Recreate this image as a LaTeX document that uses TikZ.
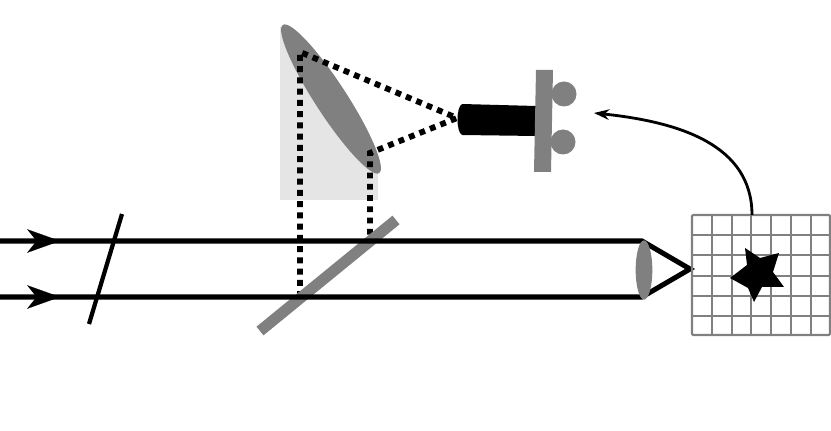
\documentclass[tikz,border=0pt]{standalone}
\usepackage{tikz}
\usetikzlibrary{arrows.meta,shapes.geometric}

\tikzset{
    beam/.style={line width=4.3pt},
    optic/.style={fill=black!50,draw=none},
    relay/.style={line width=5pt,dash pattern=on 5pt off 4.6pt},
    gridline/.style={black!50,line width=1.8pt},
    beamtip/.style={-{Stealth[length=28pt,width=20pt,inset=8pt]},line width=0.1pt},
}

\begin{document}
\begin{tikzpicture}[x=0.03cm,y=-0.03cm]
            \useasboundingbox (0,0) rectangle (831,431);

            % shaded part below the curved mirror
            \fill[black!10] (280,26) -- (378,165) -- (378,200) -- (280,200) -- cycle;
            \node[ellipse,optic,rotate=-57,minimum width=5.3cm,minimum height=0.95cm,inner sep=0pt] (mirror) at (331,99) {};

            % relay path up to the camera
            \coordinate (split1) at (300,297);
            \coordinate (split2) at (370,240);
            \coordinate (focus) at (457,118);
            \draw[relay] (split1) -- (300,52) -- (focus) -- (370,153) -- (split2);

            % camera
            \fill[optic] (564,94) circle (12.5);
            \fill[optic] (563,142) circle (12.5);
            \fill[black] (462,104) -- (536,106) -- (536,136) -- (462,135) .. controls (456,132) and (456,107) .. (462,104) -- cycle;
            \fill[optic] (536,70) -- (553,70) -- (551,172) -- (534,172) -- cycle;

            % beams
            \coordinate (lens1) at (642,241);
            \coordinate (lens2) at (642,297);
            \coordinate (apex) at (690,269);
            \draw[line width=9.5pt,black!50] (260,331) -- (396,220);
            \draw[beam] (0,241) -- (lens1) -- (apex) -- (lens2) -- (0,297);
            \draw[line width=3.6pt] (122,214) -- (89,324);
            \draw[beamtip] (0,241) -- (60,241);
            \draw[beamtip] (0,297) -- (60,297);
            \node[ellipse,optic,minimum width=0.5cm,minimum height=1.78cm,inner sep=0pt] (lens) at (644,270) {};

            % sample plane
            \draw[gridline,rounded corners=1pt] (692,215) rectangle (830,335);
            \foreach \i in {712,732,751,771,791,811} {
                \draw[gridline] (\i,215) -- (\i,335);
            }
            \foreach \j in {235,255,276,296,316} {
                \draw[gridline] (692,\j) -- (830,\j);
            }
            \fill[black] (745,248) -- (760,258) -- (779,253) -- (773,272) -- (784,287) -- (762,287) -- (754,302) -- (748,288) -- (730,278) -- (747,265) -- cycle;

            \coordinate (gridtop) at (752,215);
            \coordinate (target) at (594,113);
            \draw[line width=2.4pt,-{Stealth[length=13pt,width=9pt]}] (gridtop) .. controls (752,145) and (680,122) .. (target);

        \end{tikzpicture}
\end{document}
